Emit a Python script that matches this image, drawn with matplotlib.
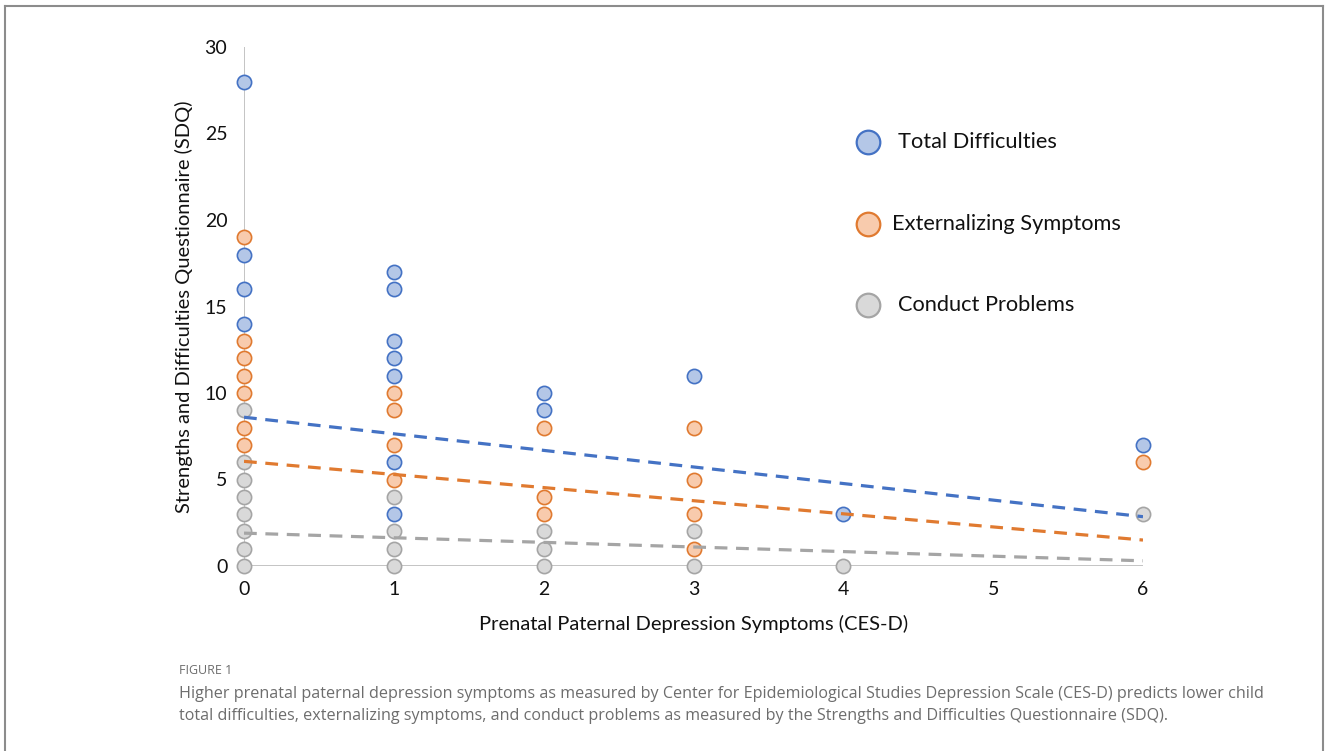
import numpy as np
import matplotlib
matplotlib.use('Agg')
import matplotlib.pyplot as plt
from matplotlib.lines import Line2D

# ---------------------------------------------------------------------------
# Data
# ---------------------------------------------------------------------------
total_x = [0, 0, 0, 0, 1, 1, 1, 1, 1, 1, 1, 2, 2, 3, 4, 6]
total_y = [28, 18, 16, 14, 17, 16, 13, 12, 11, 6, 3, 10, 9, 11, 3, 7]

ext_x = [0, 0, 0, 0, 0, 0, 0, 1, 1, 1, 1, 2, 2, 2, 3, 3, 3, 3, 6]
ext_y = [19, 13, 12, 11, 10, 8, 7, 10, 9, 7, 5, 8, 4, 3, 8, 5, 3, 1, 6]

cond_x = [0, 0, 0, 0, 0, 0, 0, 0, 1, 1, 1, 1, 2, 2, 2, 3, 3, 4, 6]
cond_y = [9, 6, 5, 4, 3, 2, 1, 0, 4, 2, 1, 0, 2, 1, 0, 2, 0, 0, 3]

# linear trend lines: value at x=0 and at x=6
trend_x = [0, 6]
total_trend = [8.6, 2.85]
ext_trend = [6.05, 1.5]
cond_trend = [1.9, 0.3]

series_names = ['Total Difficulties', 'Externalizing Symptoms', 'Conduct Problems']

x_ticks = [0, 1, 2, 3, 4, 5, 6]
y_ticks = [0, 5, 10, 15, 20, 25, 30]

caption_head = 'FIGURE 1'
caption_body = ('Higher prenatal paternal depression symptoms as measured by Center for '
                'Epidemiological Studies Depression Scale (CES-D) predicts lower child\n'
                'total difficulties, externalizing symptoms, and conduct problems as '
                'measured by the Strengths and Difficulties Questionnaire (SDQ).')

# ---------------------------------------------------------------------------
# Styles
# ---------------------------------------------------------------------------
BLUE_FILL, BLUE_EDGE = '#B4C7E7', '#4472C4'
ORANGE_FILL, ORANGE_EDGE = '#F8CBAD', '#E07A30'
GREY_FILL, GREY_EDGE = '#D9D9D9', '#A5A5A5'
AXIS_COLOR = '#BFBFBF'
CHART_FONT = ['Lato', 'DejaVu Sans']
CAPTION_FONT = ['Open Sans', 'DejaVu Sans']

W, H = 1328, 751
fig = plt.figure(figsize=(W / 100, H / 100), dpi=100)
ax = fig.add_axes([244 / W, 1 - 566 / H, (1143 - 244) / W, (566 - 47) / H])

# axis lines like Excel: light grey, no ticks
ax.axhline(0, color=AXIS_COLOR, lw=1.3, zorder=1)
ax.axvline(0, color=AXIS_COLOR, lw=1.3, zorder=1)
for s in ax.spines.values():
    s.set_visible(False)

ms = 105
ax.scatter(total_x, total_y, s=ms, facecolor=BLUE_FILL, edgecolor=BLUE_EDGE, lw=1.2, zorder=3)
ax.scatter(ext_x, ext_y, s=ms, facecolor=ORANGE_FILL, edgecolor=ORANGE_EDGE, lw=1.2, zorder=3)
ax.scatter(cond_x, cond_y, s=ms, facecolor=GREY_FILL, edgecolor=GREY_EDGE, lw=1.2, zorder=3)

dash = (4, 2.7)
ax.plot(trend_x, total_trend, color=BLUE_EDGE, lw=2.3, dashes=dash, zorder=4)
ax.plot(trend_x, ext_trend, color=ORANGE_EDGE, lw=2.3, dashes=dash, zorder=4)
ax.plot(trend_x, cond_trend, color=GREY_EDGE, lw=2.3, dashes=dash, zorder=4)

ax.set_xlim(0, 6)
ax.set_ylim(0, 30)
ax.set_xticks(x_ticks)
ax.set_yticks(y_ticks)
ax.tick_params(length=0, labelsize=14, pad=12, labelcolor='#111111')
for lab in ax.get_xticklabels() + ax.get_yticklabels():
    lab.set_family(CHART_FONT)
ax.tick_params(axis='x', pad=11)
ax.set_xlabel('Prenatal Paternal Depression Symptoms (CES-D)', fontsize=14.5,
              family=CHART_FONT, labelpad=12, color='#111111')
ax.set_ylabel('Strengths and Difficulties Questionnaire (SDQ)', fontsize=14.5,
              family=CHART_FONT, labelpad=8, color='#111111')
for c in ax.collections:
    c.set_clip_on(False)

# legend drawn as free markers + text, as in the original
legend_style = [(BLUE_FILL, BLUE_EDGE, 142, 898), (ORANGE_FILL, ORANGE_EDGE, 224, 892),
                (GREY_FILL, GREY_EDGE, 305, 898)]
for name, (fc, ec, py, tx) in zip(series_names, legend_style):
    fig.add_artist(Line2D([868 / W], [1 - py / H], marker='o', markersize=17,
                          markerfacecolor=fc, markeredgecolor=ec, markeredgewidth=1.6,
                          linestyle='none', transform=fig.transFigure))
    fig.text(tx / W, 1 - py / H, name, fontsize=15.7, family=CHART_FONT,
             va='center', ha='left', color='#111111')

# caption
fig.text(179 / W, 1 - 671 / H, caption_head, fontsize=9, family=CAPTION_FONT,
         color='#6d6d6d', va='center', ha='left')
fig.text(179 / W, 1 - 705 / H, caption_body, fontsize=11.6, family=CAPTION_FONT,
         color='#6d6d6d', va='center', ha='left', linespacing=1.55)

# figure frame (left, top, right)
frame = dict(color='#8c8c8c', lw=1.5, transform=fig.transFigure)
fig.add_artist(Line2D([5 / W, 5 / W], [0, 1 - 6 / H], **frame))
fig.add_artist(Line2D([5 / W, 1323 / W], [1 - 6 / H, 1 - 6 / H], **frame))
fig.add_artist(Line2D([1323 / W, 1323 / W], [0, 1 - 6 / H], **frame))

fig.savefig('out.png', dpi=100)
